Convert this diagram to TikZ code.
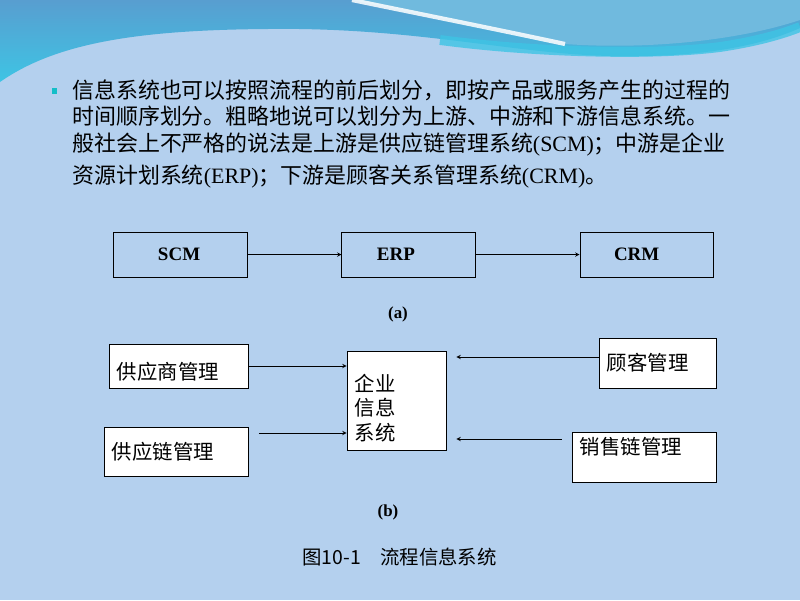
\documentclass[tikz,border=0pt]{standalone}
\usepackage{fontspec}
\setmainfont{Liberation Serif}
\newfontfamily\cjk{Noto Sans CJK SC}
\definecolor{bgblue}{RGB}{180,208,238}
\definecolor{wavetop}{RGB}{88,158,208}
\definecolor{wavelow}{RGB}{62,196,228}
\definecolor{wavelight}{RGB}{112,186,222}
\definecolor{dotcyan}{RGB}{20,190,200}

\begin{document}
\begin{tikzpicture}
[x=0.025cm,y=-0.025cm,>=stealth,
sys/.style={draw=black,line width=0.7pt,minimum height=1.125cm,inner ysep=0pt,align=left,font=\fontsize{13.5}{16}\selectfont\bfseries},
mod/.style={draw=black,fill=white,line width=0.6pt,inner xsep=0.2cm,inner ysep=2pt,align=left,font=\cjk\fontsize{14.5}{17.4}\selectfont},
txt/.style={anchor=west,inner sep=0pt,text height=12pt,text depth=3pt,font=\fontsize{15.6}{18}\selectfont},
sub/.style={font=\fontsize{12}{14}\selectfont\bfseries}]
\useasboundingbox (0,0) rectangle (800,600);
\fill[bgblue] (0,0) rectangle (800,600);
\shade[top color=wavetop,bottom color=wavelow] (0,0) -- (800,0) -- (800,28)
  .. controls (760,46) and (700,58) .. (610,56)
  .. controls (520,54) and (430,31) .. (300,29)
  .. controls (150,28) and (60,40) .. (0,82) -- cycle;
\fill[wavelight] (352,0) .. controls (420,14) and (500,30) .. (565,44)
  .. controls (650,50) and (740,40) .. (800,20) -- (800,0) -- cycle;
\draw[wavelow,line width=7pt,opacity=0.8] (440,40) .. controls (530,52) and (650,56) .. (720,47) .. controls (760,41) and (785,33) .. (800,27);
\draw[white,line width=3pt,opacity=0.85] (352,0) .. controls (420,14) and (500,30) .. (565,44);
\node[fill=dotcyan,minimum size=4pt,inner sep=0pt] at (54.5,91) (dot) {};
\node[txt] at (72,92) (l1) {\cjk 信息系统也可以按照流程的前后划分，即按产品或服务产生的过程的};
\node[txt] at (72,118) (l2) {\cjk 时间顺序划分。粗略地说可以划分为上游、中游和下游信息系统。一};
\node[txt] at (72,145) (l3) {{\cjk 般社会上不严格的说法是上游是供应链管理系统}(SCM){\cjk ；中游是企业}};
\node[txt] at (72,177) (l4) {{\cjk 资源计划系统}(ERP){\cjk ；下游是顾客关系管理系统}(CRM){\cjk 。}};
\node[sys,inner xsep=1.1cm,text width=1.125cm] at (180.5,254.5) (scm) {SCM};
\node[sys,inner xsep=0.875cm,text width=1.5875cm] at (408.75,254.5) (erp) {ERP};
\node[sys,inner xsep=0.85cm,text width=1.625cm] at (646.5,254.5) (crm) {CRM};
\draw[->] (scm) -- (erp);
\draw[->] (erp) -- (crm);
\node[sub] at (398,314) (sa) {(a)};
\node[mod,text width=3.0875cm,minimum height=1.1cm,text height=21pt] at (178.75,366) (sup) {供应商管理};
\node[mod,text width=3.2125cm,minimum height=1.225cm] at (176.25,451.5) (chn) {供应链管理};
\node[mod,text width=2.0875cm,minimum height=2.475cm] at (396.75,400.5) (ent) {\rule{0pt}{23pt}企业\\信息\\系统};
\node[mod,text width=2.525cm,minimum height=1.25cm] at (657.5,363) (cus) {顾客管理};
\node[mod,text width=3.2cm,minimum height=1.25cm,text depth=16pt] at (644,457) (sal) {销售链管理};
\draw[->] (sup.east) -- (sup.east -| ent.west);
\draw[->] ([shift={(10,-18.5)}]chn.east) coordinate (c2) -- (c2 -| ent.west);
\draw[->] ([shift={(0,-6)}]cus.west) coordinate (c3) -- ([xshift=0.2375cm]c3 -| ent.east);
\draw[->] ([shift={(-10,-18)}]sal.west) coordinate (c4) -- ([xshift=0.2375cm]c4 -| ent.east);
\node[sub] at (388,512) (sb) {(b)};
\node[font=\cjk\fontsize{13.8}{16}\selectfont] at (399.5,557) (title) {图10-1　流程信息系统};
\end{tikzpicture}
\end{document}
